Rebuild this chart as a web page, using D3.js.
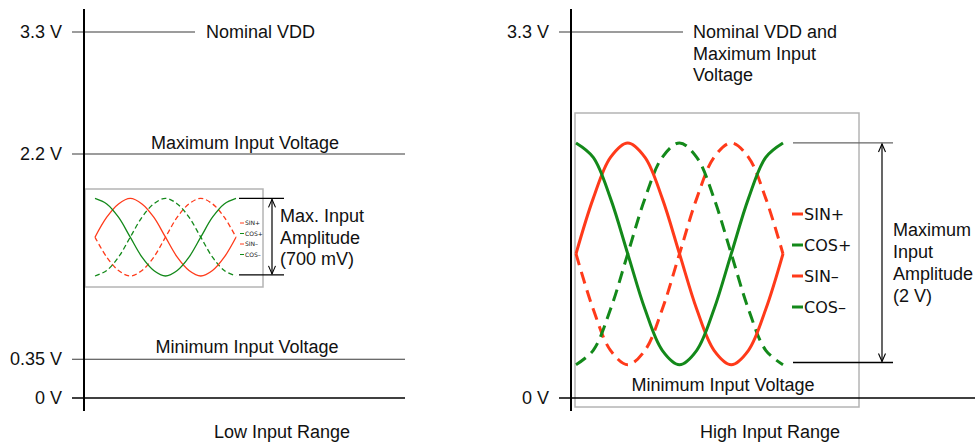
<!DOCTYPE html>
<html>
<head>
<meta charset="utf-8">
<script src="https://cdn.jsdelivr.net/npm/d3@7"></script>
<style>
  html, body { margin: 0; padding: 0; background: #fff; }
  svg { display: block; }
  text { font-family: "Liberation Sans", Arial, Helvetica, sans-serif; fill: #111; }
  .legend text { font-family: "DejaVu Sans", Verdana, sans-serif; }
</style>
</head>
<body>
<svg id="chart" width="975" height="443"></svg>
<script>
// ---------- DATA ----------
const lowTickValues = [3.3, 2.2, 0.35, 0];
const lowTickLabels = ["3.3 V", "2.2 V", "0.35 V", "0 V"];
const highTickValues = [3.3, 0];
const highTickLabels = ["3.3 V", "0 V"];

const phase = [0, 30, 60, 90, 120, 150, 180, 210, 240, 270, 300, 330, 360];

// Low input range waves (volts)
const lowSinPlus  = [1.45, 1.63, 1.75, 1.80, 1.75, 1.63, 1.45, 1.27, 1.15, 1.10, 1.15, 1.27, 1.45];
const lowCosPlus  = [1.80, 1.75, 1.63, 1.45, 1.27, 1.15, 1.10, 1.15, 1.27, 1.45, 1.63, 1.75, 1.80];
const lowSinMinus = [1.45, 1.27, 1.15, 1.10, 1.15, 1.27, 1.45, 1.63, 1.75, 1.80, 1.75, 1.63, 1.45];
const lowCosMinus = [1.10, 1.15, 1.27, 1.45, 1.63, 1.75, 1.80, 1.75, 1.63, 1.45, 1.27, 1.15, 1.10];

// High input range waves (volts)
const highSinPlus  = [1.30, 1.80, 2.17, 2.30, 2.17, 1.80, 1.30, 0.80, 0.43, 0.30, 0.43, 0.80, 1.30];
const highCosPlus  = [2.30, 2.17, 1.80, 1.30, 0.80, 0.43, 0.30, 0.43, 0.80, 1.30, 1.80, 2.17, 2.30];
const highSinMinus = [1.30, 0.80, 0.43, 0.30, 0.43, 0.80, 1.30, 1.80, 2.17, 2.30, 2.17, 1.80, 1.30];
const highCosMinus = [0.30, 0.43, 0.80, 1.30, 1.80, 2.17, 2.30, 2.17, 1.80, 1.30, 0.80, 0.43, 0.30];

const seriesNames = ["SIN+", "COS+", "SIN–", "COS–"];
const lowAmplitude = [1.80, 1.11];   // marker top / bottom (V)
const highAmplitude = [2.30, 0.32];

// ---------- STYLE ----------
const RED = "#ff3a1a", GREEN = "#13891a";
const svg = d3.select("#chart");
const y = d3.scaleLinear().domain([0, 3.3]).range([398, 32]);

function panel(opts) {
  const g = svg.append("g");
  // inset box
  g.append("rect").attr("x", opts.box[0]).attr("y", opts.box[1])
    .attr("width", opts.box[2] - opts.box[0]).attr("height", opts.box[3] - opts.box[1])
    .attr("fill", "none").attr("stroke", "#b4b4b4").attr("stroke-width", 1.5);

  // reference lines
  opts.refs.forEach(r => {
    g.append("line").attr("x1", opts.axisX - 12).attr("x2", r.x2)
      .attr("y1", y(r.v)).attr("y2", y(r.v))
      .attr("stroke", r.v === 0 ? "#000" : "#3a3a3a")
      .attr("stroke-width", r.v === 0 ? 1.6 : 1.1);
  });

  // axis labels
  const ax = d3.axisLeft(y).tickValues(opts.ticks)
    .tickFormat((d, i) => opts.labels[i]).tickSize(0).tickPadding(22);
  const axG = g.append("g").attr("transform", `translate(${opts.axisX},0)`).call(ax);
  axG.select(".domain").remove();
  axG.selectAll("text").style("font-family", '"Liberation Sans", Arial, sans-serif')
    .style("font-size", "18px").attr("fill", "#111");

  // vertical axis line
  g.append("line").attr("x1", opts.axisX).attr("x2", opts.axisX)
    .attr("y1", 9).attr("y2", 411).attr("stroke", "#000").attr("stroke-width", 2);

  // waves
  const x = d3.scaleLinear().domain([0, 360]).range(opts.waveX);
  const line = d3.line().x((d, i) => x(phase[i])).y(d => y(d)).curve(d3.curveCatmullRom);
  const waves = [
    {d: opts.data[0], c: RED, dash: null},
    {d: opts.data[1], c: GREEN, dash: null},
    {d: opts.data[2], c: RED, dash: opts.dash},
    {d: opts.data[3], c: GREEN, dash: opts.dash}
  ];
  [2, 3, 0, 1].forEach(k => {
    const w = waves[k];
    g.append("path").attr("d", line(w.d)).attr("fill", "none")
      .attr("stroke", w.c).attr("stroke-width", opts.sw)
      .attr("stroke-dasharray", w.dash);
  });

  // legend
  const lg = g.append("g").attr("class", "legend");
  seriesNames.forEach((n, i) => {
    const yy = opts.legY[0] + i * opts.legY[1];
    lg.append("line").attr("x1", opts.legX).attr("x2", opts.legX + opts.legDash)
      .attr("y1", yy).attr("y2", yy).attr("stroke", waves[i].c).attr("stroke-width", opts.legSW);
    lg.append("text").attr("x", opts.legX + opts.legDash + 1).attr("y", yy)
      .attr("dy", "0.36em").style("font-size", opts.legFS + "px").text(n);
  });

  // amplitude markers
  opts.amp.forEach((v, i) => {
    g.append("line").attr("x1", opts.ampX[0]).attr("x2", opts.ampX[1])
      .attr("y1", y(v)).attr("y2", y(v))
      .attr("stroke", i === 0 ? opts.ampTopColor : "#000").attr("stroke-width", 1.3);
  });
  const ay1 = y(opts.amp[0]) + 1, ay2 = y(opts.amp[1]) - 1, axx = opts.arrowX;
  g.append("line").attr("x1", axx).attr("x2", axx).attr("y1", ay1).attr("y2", ay2)
    .attr("stroke", "#000").attr("stroke-width", 1.2);
  g.append("path").attr("d", `M${axx-3.5},${ay1+8}L${axx},${ay1}L${axx+3.5},${ay1+8}`)
    .attr("fill", "none").attr("stroke", "#000").attr("stroke-width", 1.1);
  g.append("path").attr("d", `M${axx-3.5},${ay2-8}L${axx},${ay2}L${axx+3.5},${ay2-8}`)
    .attr("fill", "none").attr("stroke", "#000").attr("stroke-width", 1.1);

  // texts
  opts.texts.forEach(t => {
    const tx = g.append("text").attr("x", t.x).attr("y", t.y)
      .attr("text-anchor", t.anchor || "start").style("font-size", "18px");
    t.lines.forEach((l, i) => {
      tx.append("tspan").attr("x", t.x).attr("dy", i === 0 ? 0 : t.lh).text(l);
    });
  });
}

panel({
  axisX: 84,
  box: [85, 189, 263, 287],
  ticks: lowTickValues, labels: lowTickLabels,
  refs: [{v: 3.3, x2: 195}, {v: 2.2, x2: 405}, {v: 0.35, x2: 405}, {v: 0, x2: 405}],
  waveX: [95, 236],
  data: [lowSinPlus, lowCosPlus, lowSinMinus, lowCosMinus],
  sw: 1.3, dash: "5,3",
  legX: 240, legDash: 4, legY: [223, 10.5], legFS: 6, legSW: 1,
  amp: lowAmplitude, ampX: [239, 284], arrowX: 272, ampTopColor: "#000",
  texts: [
    {x: 206, y: 38, lines: ["Nominal VDD"]},
    {x: 245, y: 149, anchor: "middle", lines: ["Maximum Input Voltage"]},
    {x: 247, y: 353, anchor: "middle", lines: ["Minimum Input Voltage"]},
    {x: 280, y: 222, lines: ["Max. Input", "Amplitude", "(700 mV)"], lh: 21.5},
    {x: 282, y: 438, anchor: "middle", lines: ["Low Input Range"]}
  ]
});

panel({
  axisX: 571,
  box: [575, 113, 859, 407],
  ticks: highTickValues, labels: highTickLabels,
  refs: [{v: 3.3, x2: 683}, {v: 0, x2: 975}],
  waveX: [576, 783],
  data: [highSinPlus, highCosPlus, highSinMinus, highCosMinus],
  sw: 3, dash: "12,7",
  legX: 792, legDash: 11, legY: [214, 31], legFS: 16, legSW: 3,
  amp: highAmplitude, ampX: [793, 893], arrowX: 882, ampTopColor: "#666",
  texts: [
    {x: 693, y: 38, lines: ["Nominal VDD and", "Maximum Input", "Voltage"], lh: 21.5},
    {x: 723, y: 391, anchor: "middle", lines: ["Minimum Input Voltage"]},
    {x: 893, y: 236, lines: ["Maximum", "Input", "Amplitude", "(2 V)"], lh: 22},
    {x: 770, y: 438, anchor: "middle", lines: ["High Input Range"]}
  ]
});
</script>
</body>
</html>
